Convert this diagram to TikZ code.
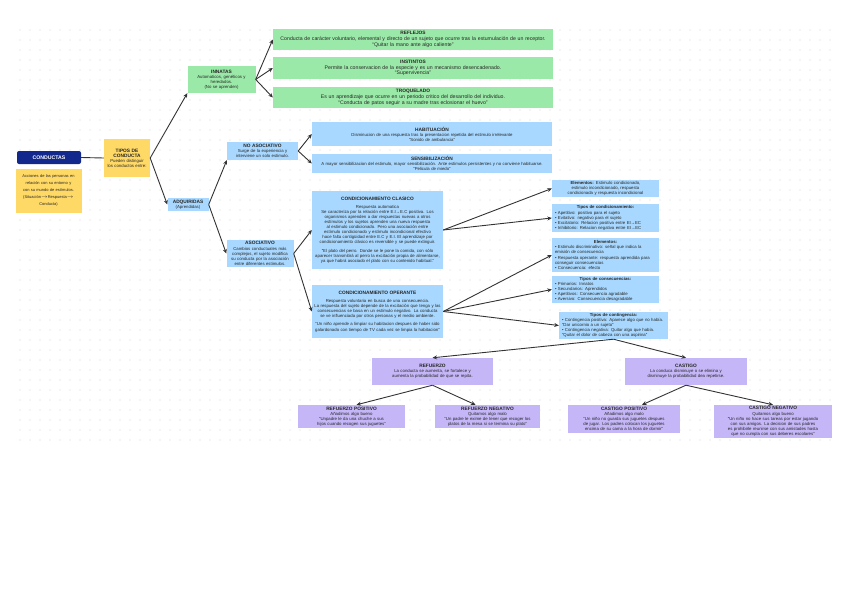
\documentclass[tikz,border=0pt]{standalone}
\usepackage{fontspec}
\setmainfont{Liberation Sans}
\usetikzlibrary{arrows.meta}
\definecolor{cgreen}{HTML}{9BE9A8}
\definecolor{cblue}{HTML}{A8D8FF}
\definecolor{cyellow}{HTML}{FFD966}
\definecolor{cpurple}{HTML}{C4B6F7}
\definecolor{cnavy}{HTML}{12288C}
\definecolor{cline}{HTML}{333333}
\definecolor{cdot}{HTML}{D4D4D4}
\tikzset{
  bx/.style={inner sep=1pt, align=center, font=\fontsize{4.3}{5.1}\selectfont, text=black!85},
  gbox/.style={bx, fill=cgreen},
  bbox/.style={bx, fill=cblue},
  ybox/.style={bx, fill=cyellow},
  pbox/.style={bx, fill=cpurple},
  arr/.style={draw=cline, line width=0.9pt, -{Stealth[length=4.5pt,width=4pt]}},
  plain/.style={draw=cline, line width=0.9pt},
}
\newcommand\hd[1]{{\bfseries\fontsize{4.8}{5.8}\selectfont #1}}
\hyphenpenalty=10000
\exhyphenpenalty=10000
\begin{document}
\begin{tikzpicture}[x=1pt,y=-1pt]
\useasboundingbox[fill=white] (0,0) rectangle (848,599);
\foreach \i in {20,30,...,830}{\foreach \j in {30,40,...,440}{\fill[cdot] (\i,\j) circle (0.6pt);}}

% left
\node[bx, fill=cnavy, rounded corners=2pt, minimum width=64pt, minimum height=13pt, text=white, font=\bfseries\fontsize{5.2}{6}\selectfont] (conductas) at (49,157.5) {CONDUCTAS};
\node[ybox, minimum width=66pt, minimum height=44pt, text width=63pt, font=\fontsize{4}{7.2}\selectfont] (defn) at (48.5,190.5) {Acciones de las personas en relación con su entorno y con su mundo de estímulos. (Situación$\rightarrow$Respuesta$\rightarrow$ Conducta)};
\node[ybox, minimum width=46pt, minimum height=38pt, text width=44pt] (tipos) at (127,158) {\hd{TIPOS DE\\CONDUCTA}\\Pueden distinguir los conductos entre:};

% innatas
\node[gbox, minimum width=67pt, minimum height=27pt, text width=66pt] (innatas) at (221.5,79.5) {\hd{INNATAS}\\Automaticos, genéticos y\\heredados.\\(No se aprenden)};
\node[gbox, minimum width=280pt, minimum height=21pt, text width=278pt, font=\fontsize{5.2}{5.8}\selectfont] (reflejos) at (413,39.5) {\hd{REFLEJOS}\\Conducta de carácter voluntario, elemental y directo de un sujeto que ocurre tras la estumulación de un receptor.\\``Quitar la mano ante algo caliente''};
\node[gbox, minimum width=280pt, minimum height=22pt, text width=278pt, font=\fontsize{5.2}{5.8}\selectfont] (instintos) at (413,68) {\hd{INSTINTOS}\\Permite la conservacion de la especie y es un mecanismo desencadenado.\\``Supervivencia''};
\node[gbox, minimum width=280pt, minimum height=21pt, text width=278pt, font=\fontsize{5.2}{5.8}\selectfont] (troquelado) at (413,97.5) {\hd{TROQUELADO}\\Es un aprendizaje que ocurre en un periodo critico del desarrollo del individuo.\\``Conducta de patos seguir a su madre tras eclosionar el huevo''};

% adquiridas
\node[bbox, minimum width=40pt, minimum height=13pt, text width=39pt] (adq) at (188,204.5) {\hd{ADQUIRIDAS}\\(Aprendidas)};
\node[bbox, minimum width=71pt, minimum height=18pt, text width=69pt] (noasoc) at (262.5,151) {\hd{NO ASOCIATIVO}\\Surge de la experiencia y interviene un solo estimulo.};
\node[bbox, minimum width=240pt, minimum height=24pt, text width=237pt] (habit) at (432,134) {\hd{HABITUACIÓN}\\Disminucion de una respuesta tras la presentacion repetida del estimulo irrelevante\\``Sonido de ambulancia''};
\node[bbox, minimum width=240pt, minimum height=19pt, text width=237pt] (sens) at (432,163.5) {\hd{SENSIBILIZACIÓN}\\A mayor sensibilizacion del estimulo, mayor sensibilización. Ante estimulos persistentes y no conviene habituarse.\\``Pelicula de miedo''};
\node[bbox, minimum width=66pt, minimum height=27pt, text width=65pt] (asoc) at (260,253.5) {\hd{ASOCIATIVO}\\Cambios conductuales más complejos, el sujeto modifica su conducta por la asociación entre diferentes estimulos.};
\node[bbox, minimum width=131pt, minimum height=78pt, text width=129pt] (clasico) at (377.5,230) {\hd{CONDICIONAMIENTO CLASICO}\\[3pt]Respuesta automatica\\Se caracteriza por la relación entre E.I→E.C positiva. Los organismos aprenden a dar respuestas nuevas a otros estímulos y los sujetos aprenden una nueva respuesta al estimulo condicionado. Pero una asociación entre estímulo condicionado y estímulo incondicional efectivo hace falta contigüidad entre E.C y E.I. El aprendizaje por condicionamiento clásico es reversible y se puede extinguir.\\[3pt]``El plato del perro. Donde se le pone la comida, con sólo aparecer transmitirá al perro la excitación propia de alimentarse, ya que habrá asociado el plato con su contenido habitual.''};
\node[bbox, minimum width=131pt, minimum height=53pt, text width=129pt] (operante) at (377.5,311.5) {\hd{CONDICIONAMIENTO OPERANTE}\\[3pt]Respuesta voluntaria en busca de una consecuencia.\\La respuesta del sujeto depende de la excitación que tenga y las consecuencias se basa en un estímulo negativo. La conducta se ve influenciada por otros personas y el medio ambiente.\\[3pt]``Un niño aprende a limpiar su habitacion despues de haber sido galardonado con tiempo de TV cada vez se limpia la habitacion''};

% right column
\node[bbox, minimum width=107pt, minimum height=17pt, text width=105pt] (elem1) at (605.5,188.5) {\textbf{Elementos:} Estimulo condicionado, estimulo incondicionado, respuesta condicionada y respuesta incondicional};
\node[bbox, minimum width=107pt, minimum height=28pt, text width=101pt, align=left] (tcond) at (605.5,218) {\hfill\textbf{Tipos de condicionamiento:}\hfill\null\\\textbullet\ Apetitivo: positivo para el sujeto\\\textbullet\ Evitativo: negativo para el sujeto\\\textbullet\ Excitatorio: Relacion positiva entre EI→EC\\\textbullet\ Inhibitorio: Relacion negativa entre EI→EC};
\node[bbox, minimum width=107pt, minimum height=34pt, text width=101pt, align=left] (elem2) at (605.5,255) {\hfill\textbf{Elementos:}\hfill\null\\\textbullet\ Estimulo discriminativo: señal que indica la emisión de consecuencia\\\textbullet\ Respuesta operante: respuesta aprendida para conseguir consecuencias\\\textbullet\ Consecuencia: efecto};
\node[bbox, minimum width=107pt, minimum height=27pt, text width=101pt, align=left] (tcons) at (605.5,289.5) {\hfill\textbf{Tipos de consecuencias:}\hfill\null\\\textbullet\ Primarios: Innatos\\\textbullet\ Secundarios: Aprendidos\\\textbullet\ Apetitivos: Consecuencia agradable\\\textbullet\ Aversivo: Consecuencia desagradable};
\node[bbox, minimum width=109pt, minimum height=27pt, text width=103pt, align=left] (tcont) at (613.5,325.5) {\hfill\textbf{Tipos de contingencia:}\hfill\null\\\textbullet\ Contingencia positiva: Aparece algo que no había. ``Dar unicornio a un sujeto''\\\textbullet\ Contingencia negativa: Quitar algo que había. ``Quitar el dolor de cabeza con una aspirina''};

% refuerzo / castigo
\node[pbox, minimum width=121pt, minimum height=27pt, text width=114pt] (refuerzo) at (432.5,371.5) {\hd{REFUERZO}\\La conducta se aumenta, se fortalece y aumenta la probabilidad de que se repita.};
\node[pbox, minimum width=122pt, minimum height=27pt, text width=114pt] (castigo) at (686,371.5) {\hd{CASTIGO}\\La conduca disminuye o se elimina y disminuye la probabilidad dea repetirse.};
\node[pbox, minimum width=107pt, minimum height=23pt, text width=105pt] (rp) at (351.5,416.5) {\hd{REFUERZO POSITIVO}\\Añadimos algo bueno\\``Unpadre le da una chuche a sus hijos cuando recogen sus juguetes''};
\node[pbox, minimum width=105pt, minimum height=23pt, text width=103pt] (rn) at (487.5,416.5) {\hd{REFUERZO NEGATIVO}\\Quitamos algo malo\\``Un padre le exime de tener que recoger los platos de la mesa si se termina su plato''};
\node[pbox, minimum width=112pt, minimum height=28pt, text width=110pt] (cp) at (624,419) {\hd{CASTIGO POSITIVO}\\Añadimos algo malo\\``Un niño no guarda sus juguetes despues de jugar. Los padres colocan los juguetes encima de su cama a la hora de dormir''};
\node[pbox, minimum width=118pt, minimum height=33pt, text width=116pt] (cn) at (773,421.5) {\hd{CASTIGO NEGATIVO}\\Quitamos algo bueno\\``Un niño no hace sus tareas por estar jugando con sus amigos. La decision de sus padres es prohibirle reunirse con sus amistades hasta que no cumpla con sus deberes escolares''};

% connectors
\draw[plain] (conductas.east) -- (tipos.west);
\draw[arr] (tipos.east) -- (innatas.south west);
\draw[arr] (tipos.east) -- (adq.west);
\draw[arr] (innatas.east) -- (reflejos.west);
\draw[arr] (innatas.east) -- (instintos.west);
\draw[arr] (innatas.east) -- (troquelado.west);
\draw[arr] (adq.east) -- (noasoc.south west);
\draw[arr] (adq.east) -- (asoc.west);
\draw[arr] (noasoc.east) -- (habit.west);
\draw[arr] (noasoc.east) -- (sens.west);
\draw[arr] (asoc.east) -- (clasico.west);
\draw[arr] (asoc.east) -- (operante.west);
\draw[arr] (clasico.east) -- (elem1.west);
\draw[arr] (clasico.east) -- (tcond.west);
\draw[arr] (operante.east) -- (elem2.west);
\draw[arr] (operante.east) -- (tcons.west);
\draw[arr] (operante.east) -- (tcont.west);
\draw[arr] (tcont.south) -- (refuerzo.north);
\draw[arr] (tcont.south) -- (castigo.north);
\draw[arr] (refuerzo.south) -- ([xshift=5pt]rp.north);
\draw[arr] (refuerzo.south) -- ([xshift=-12pt]rn.north);
\draw[arr] (castigo.south) -- ([xshift=18pt]cp.north);
\draw[arr] (castigo.south) -- (cn.north);
\end{tikzpicture}
\end{document}
